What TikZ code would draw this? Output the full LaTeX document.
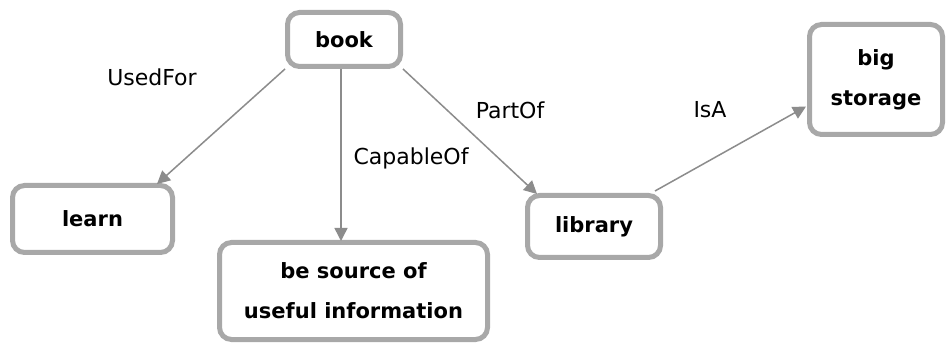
\documentclass[tikz,border=0pt]{standalone}
\usepackage{fontspec}
\setmainfont{DejaVu Sans}
\usetikzlibrary{arrows.meta}
\definecolor{boxgray}{HTML}{A8A8A8}
\definecolor{arrgray}{HTML}{8C8C8C}
\tikzset{
  concept/.style={draw=boxgray, line width=5pt, rounded corners=12pt, fill=white,
    inner sep=0pt, align=center, text=black,
    font=\fontsize{21}{40}\selectfont\bfseries},
  rel/.style={draw=arrgray, line width=1.5pt, -{Triangle[length=13pt,width=13pt]}},
  rellabel/.style={inner sep=0pt, text=black, font=\fontsize{22}{26}\selectfont}
}
\begin{document}
\begin{tikzpicture}[x=1pt,y=-1pt]
\useasboundingbox[fill=white] (0,0) rectangle (950,347);
\node[concept, minimum width=113pt, minimum height=54pt] (book) at (344,39.5) {book};
\node[concept, minimum width=160pt, minimum height=67pt] (learn) at (92.5,219) {learn};
\node[concept, minimum width=268pt, minimum height=97pt] (src) at (353.5,291) {be source of\\useful information};
\node[concept, minimum width=133pt, minimum height=62pt] (lib) at (594,226.5) {library};
\node[concept, minimum width=133pt, minimum height=110pt] (big) at (876,79.5) {big\\storage};

\draw[rel] (book.south west) -- ([xshift=-18pt,yshift=-1pt]learn.north east);
\draw[rel] ([xshift=-3pt]book.south) -- ([xshift=-3pt,yshift=-1pt]book.south |- src.north);
\draw[rel] (book.south east) -- ([xshift=12pt,yshift=-1pt]lib.north west);
\draw[rel] ([xshift=-8pt,yshift=2pt]lib.north east) -- ([xshift=-1pt,yshift=-27pt]big.west);

\node[rellabel] (l1) at (152,77) {UsedFor};
\node[rellabel] (l2) at (411,158) {CapableOf};
\node[rellabel] (l3) at (510,110) {PartOf};
\node[rellabel] (l4) at (710,110) {IsA};
\end{tikzpicture}
\end{document}
